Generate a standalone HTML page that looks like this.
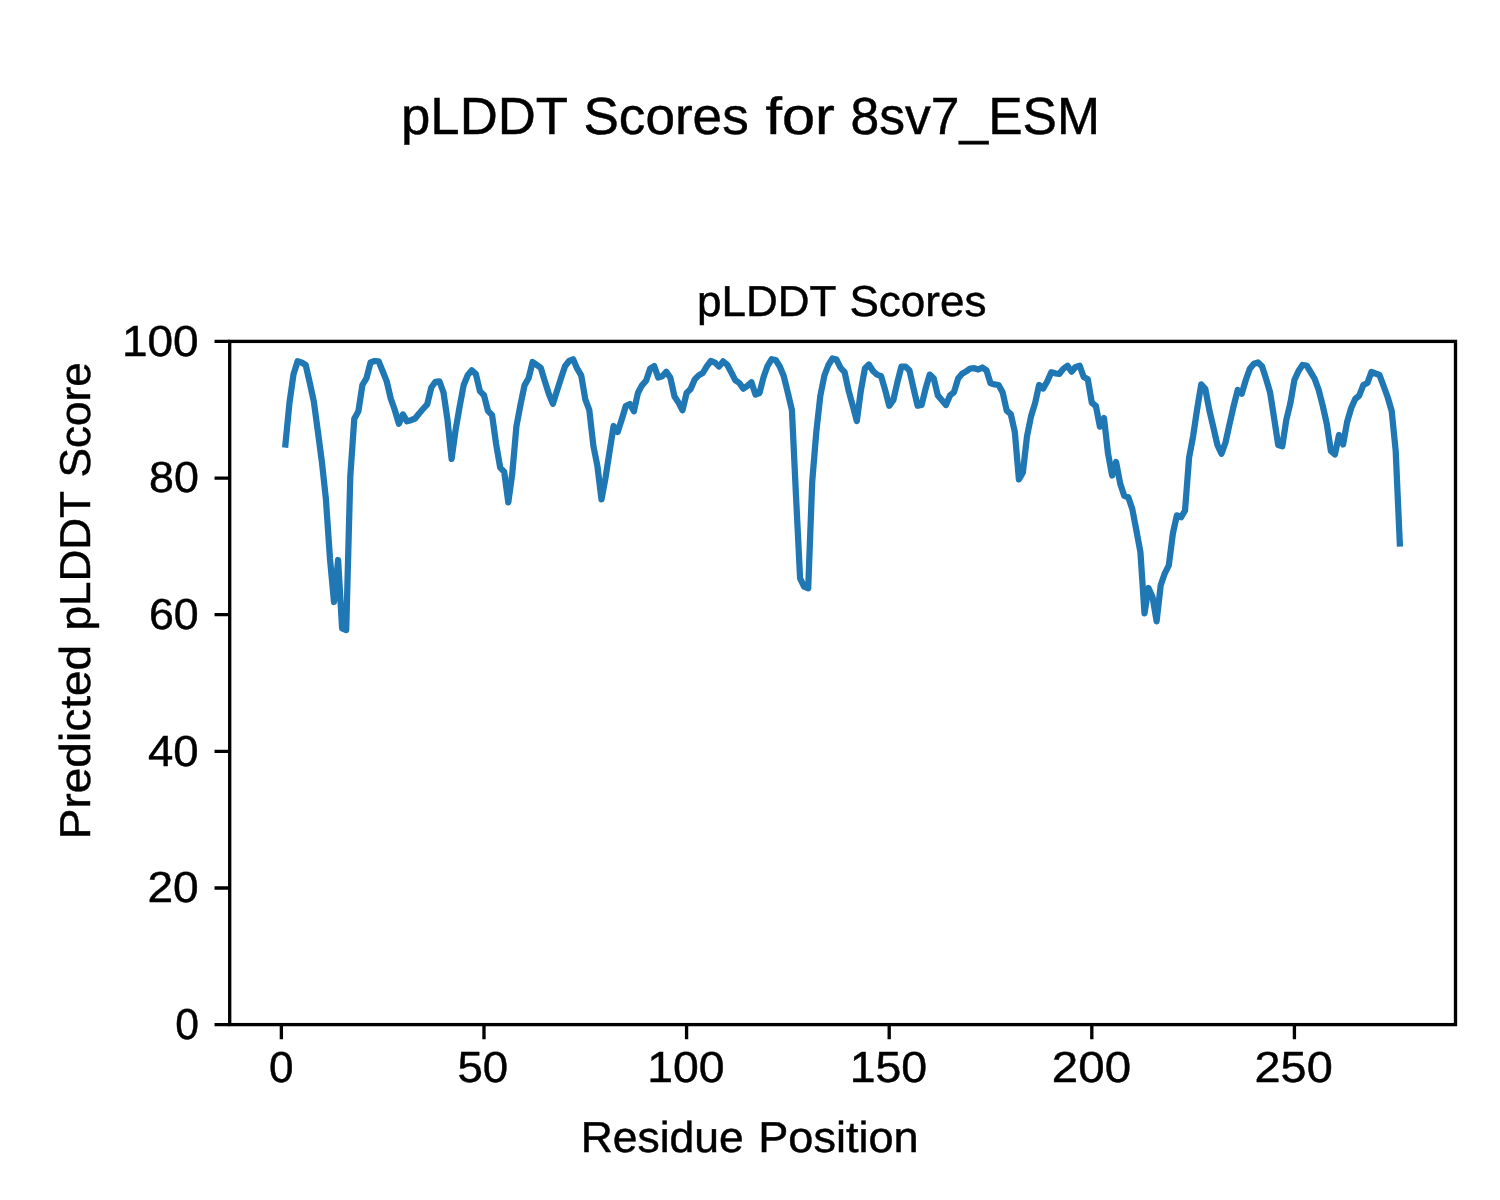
<!DOCTYPE html>
<html><head><meta charset="utf-8"><title>pLDDT Scores for 8sv7_ESM</title>
<style>html,body{margin:0;padding:0;background:#fff;}svg{display:block;will-change:transform;}text{font-family:"Liberation Sans",sans-serif;font-kerning:none;text-rendering:geometricPrecision;}</style>
</head><body>
<svg width="1500" height="1200" viewBox="0 0 1500 1200">
<rect x="0" y="0" width="1500" height="1200" fill="#fff"/>
<polyline points="285.4,444.5 289.5,402.5 293.5,374.4 297.6,361.3 301.6,362.5 305.7,365.0 309.7,382.5 313.8,401.3 317.8,431.0 321.9,462.0 325.9,499.0 330.0,559.0 334.0,602.0 338.1,560.0 342.1,628.3 346.2,630.0 350.3,476.0 354.3,418.8 358.4,411.3 362.4,385.0 366.5,378.1 370.5,362.5 374.6,361.0 378.6,361.3 382.7,371.3 386.7,381.3 390.8,398.8 394.8,410.0 398.9,423.8 402.9,414.4 407.0,421.3 411.0,420.2 415.1,418.5 419.1,413.5 423.2,408.8 427.2,404.4 431.3,387.5 435.4,381.9 439.4,381.3 443.5,392.5 447.5,420.0 451.6,458.8 455.6,430.0 459.7,406.3 463.7,385.0 467.8,375.0 471.8,370.3 475.9,374.1 479.9,391.1 484.0,395.3 488.0,410.9 492.1,415.2 496.1,444.0 500.2,467.6 504.2,471.8 508.3,502.3 512.3,473.2 516.4,426.5 520.4,405.2 524.5,385.4 528.6,378.3 532.6,362.0 536.7,364.9 540.7,367.7 544.8,381.2 548.8,393.9 552.9,403.8 556.9,391.1 561.0,378.3 565.0,366.2 569.1,361.0 573.1,359.3 577.2,368.7 581.2,375.3 585.3,399.3 589.3,410.0 593.4,446.0 597.4,466.0 601.5,499.3 605.5,478.0 609.6,451.3 613.6,426.0 617.7,432.0 621.8,419.3 625.8,406.0 629.9,404.0 633.9,411.3 638.0,392.7 642.0,385.3 646.1,380.7 650.1,368.7 654.2,366.0 658.2,377.5 662.3,376.2 666.3,371.8 670.4,377.8 674.4,396.2 678.5,402.6 682.5,410.2 686.6,393.0 690.6,389.0 694.7,379.4 698.7,375.4 702.8,373.0 706.9,366.2 710.9,361.0 715.0,362.6 719.0,366.6 723.1,361.4 727.1,364.6 731.2,372.2 735.2,380.2 739.3,383.0 743.3,388.6 747.4,385.8 751.4,382.2 755.5,394.6 759.5,393.0 763.6,377.0 767.6,365.8 771.7,359.2 775.7,360.0 779.8,366.5 783.8,376.3 787.9,392.9 791.9,410.0 796.0,495.8 800.1,578.3 804.1,586.7 808.2,588.3 812.2,482.0 816.3,432.0 820.3,396.0 824.4,375.5 828.4,365.0 832.5,358.5 836.5,359.6 840.6,367.9 844.6,372.1 848.7,391.0 852.7,405.5 856.8,421.0 860.8,391.0 864.9,368.5 868.9,364.5 873.0,371.0 877.0,374.6 881.1,376.2 885.1,389.8 889.2,405.8 893.3,400.2 897.3,382.6 901.4,366.6 905.4,366.6 909.5,370.6 913.5,388.2 917.6,405.8 921.6,405.0 925.7,388.2 929.7,374.6 933.8,378.6 937.8,395.4 941.9,400.2 945.9,405.0 950.0,395.4 954.0,392.2 958.1,378.6 962.1,373.8 966.2,371.4 970.2,368.5 974.3,368.2 978.3,369.5 982.4,367.5 986.5,370.4 990.5,383.3 994.6,384.4 998.6,385.0 1002.7,392.6 1006.7,410.7 1010.8,414.2 1014.8,431.7 1018.9,479.5 1022.9,472.5 1027.0,436.3 1031.0,416.5 1035.1,403.1 1039.1,385.0 1043.2,388.5 1047.2,381.5 1051.3,372.2 1055.3,373.3 1059.4,373.9 1063.4,368.7 1067.5,365.8 1071.6,371.6 1075.6,366.9 1079.7,365.8 1083.7,377.0 1087.8,379.3 1091.8,402.7 1095.9,406.0 1099.9,426.7 1104.0,418.0 1108.0,453.3 1112.1,475.5 1116.1,462.0 1120.2,483.5 1124.2,495.8 1128.3,497.3 1132.3,509.0 1136.4,530.7 1140.4,552.0 1144.5,613.3 1148.5,588.0 1152.6,597.3 1156.6,621.3 1160.7,585.3 1164.8,573.3 1168.8,565.3 1172.9,533.3 1176.9,515.3 1181.0,517.3 1185.0,510.7 1189.1,457.5 1193.1,436.3 1197.2,408.8 1201.2,384.4 1205.3,388.8 1209.3,410.0 1213.4,427.5 1217.4,445.0 1221.5,453.8 1225.5,442.5 1229.6,423.8 1233.6,406.3 1237.7,390.0 1241.7,393.8 1245.8,380.0 1249.8,368.8 1253.9,363.8 1258.0,362.5 1262.0,366.3 1266.1,378.8 1270.1,392.5 1274.2,418.8 1278.2,445.0 1282.3,446.3 1286.3,420.0 1290.4,403.0 1294.4,380.0 1298.5,371.0 1302.5,365.0 1306.6,365.5 1310.6,372.0 1314.7,379.0 1318.7,390.0 1322.8,406.0 1326.8,424.0 1330.9,451.0 1334.9,454.5 1339.0,435.0 1343.1,444.5 1347.1,422.0 1351.2,408.0 1355.2,399.0 1359.3,395.5 1363.3,385.0 1367.4,383.0 1371.4,372.0 1375.5,373.5 1379.5,375.0 1383.6,386.0 1387.6,397.0 1391.7,411.0 1395.7,451.0 1399.8,543.5" fill="none" stroke="#1f77b4" stroke-width="6.25" stroke-linejoin="round" stroke-linecap="square"/>
<rect x="229.7" y="341.4" width="1225.80" height="683.20" fill="none" stroke="#000" stroke-width="3.33" stroke-linejoin="miter"/>
<path d="M214.52 1024.60H229.70 M214.52 887.96H229.70 M214.52 751.32H229.70 M214.52 614.68H229.70 M214.52 478.04H229.70 M214.52 341.40H229.70 M281.37 1024.60V1039.18 M483.98 1024.60V1039.18 M686.59 1024.60V1039.18 M889.20 1024.60V1039.18 M1091.81 1024.60V1039.18 M1294.42 1024.60V1039.18" stroke="#000" stroke-width="3.33" fill="none"/>
<g font-family="Liberation Sans, sans-serif" fill="#000" stroke="#000" stroke-width="0.45"><text transform="translate(401.02,134.00) scale(1.0079,1)" font-size="52.30">pLDDT</text><text transform="translate(583.41,134.00) scale(1.0155,1)" font-size="52.30">Scores</text><text transform="translate(765.38,134.00) scale(1.1369,1)" font-size="52.30">for</text><text transform="translate(850.48,134.00) scale(0.9867,1)" font-size="52.30">8sv7_ESM</text><text transform="translate(696.98,315.90) scale(1.0195,1)" font-size="43.20">pLDDT</text><text transform="translate(849.42,315.90) scale(1.0201,1)" font-size="43.20">Scores</text><text transform="translate(580.67,1151.90) scale(1.0289,1)" font-size="43.20">Residue</text><text transform="translate(758.22,1151.90) scale(1.0443,1)" font-size="43.20">Position</text><text transform="translate(90.00,839.26) rotate(-90) scale(1.0658,1)" font-size="43.20">Predicted</text><text transform="translate(90.00,630.62) rotate(-90) scale(1.0210,1)" font-size="43.20">pLDDT</text><text transform="translate(90.00,477.53) rotate(-90) scale(1.0215,1)" font-size="43.20">Score</text><text transform="translate(175.36,1038.87) scale(0.9791,1)" font-size="43.50">0</text><text transform="translate(147.40,902.23) scale(1.0598,1)" font-size="43.50">20</text><text transform="translate(147.93,765.59) scale(1.0465,1)" font-size="43.50">40</text><text transform="translate(148.95,628.95) scale(1.0288,1)" font-size="43.50">60</text><text transform="translate(148.97,492.31) scale(1.0305,1)" font-size="43.50">80</text><text transform="translate(121.92,355.67) scale(1.0562,1)" font-size="43.50">100</text><text transform="translate(269.00,1082.39) scale(1.0128,1)" font-size="43.50">0</text><text transform="translate(457.39,1082.39) scale(1.0493,1)" font-size="43.50">50</text><text transform="translate(647.29,1082.39) scale(1.0650,1)" font-size="43.50">100</text><text transform="translate(849.68,1082.39) scale(1.0680,1)" font-size="43.50">150</text><text transform="translate(1051.83,1082.39) scale(1.0913,1)" font-size="43.50">200</text><text transform="translate(1254.56,1082.39) scale(1.0767,1)" font-size="43.50">250</text></g>
</svg>
</body></html>
